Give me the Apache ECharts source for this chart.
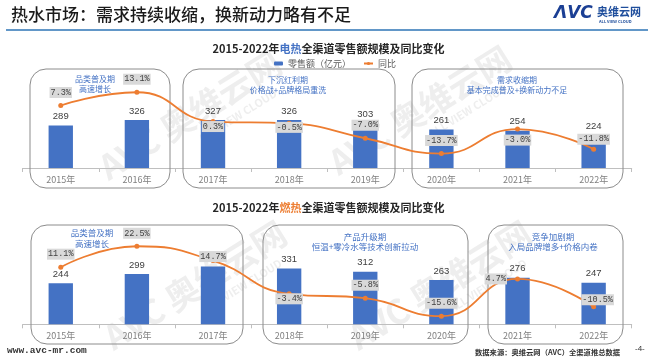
<!DOCTYPE html>
<html>
<head>
<meta charset="utf-8">
<script src="https://cdn.jsdelivr.net/npm/echarts@6/dist/echarts.min.js"></script>
<style>
html,body{margin:0;padding:0;background:#fff;}
#c{width:657px;height:364px;}
</style>
</head>
<body>
<div id="c"></div>
<script>
// ---- data ----
const years = ['2015年','2016年','2017年','2018年','2019年','2020年','2021年','2022年'];
const elecSales = [289, 326, 327, 326, 303, 261, 254, 224];
const elecYoY = [7.3, 13.1, 0.3, -0.5, -7.0, -13.7, -3.0, -11.8];
const gasSales = [244, 299, 343, 331, 312, 263, 276, 247];
const gasYoY = [11.1, 22.5, 14.7, -3.4, -5.8, -15.6, 4.7, -10.5];

// ---- label placement styles (not data) ----
const elecLabelStyle = [
  {position:'top', distance:5}, {position:'top', distance:5},
  {position:'inside', offset:[0,5]}, {position:'inside', offset:[0,4]},
  {position:'top', distance:5}, {position:'top', distance:5},
  {position:'bottom', distance:3}, {position:'top', distance:2}
];
const gasLabelStyle = [
  {position:'top', distance:5}, {position:'top', distance:5},
  {position:'inside', offset:[0,-4]}, {position:'inside', offset:[0,5]},
  {position:'top', distance:5}, {position:'top', distance:5},
  {position:'left', distance:8}, {position:'inside', offset:[4,-7]}
];

const BLUE = '#4472C4', ORANGE = '#ED7D31';
const CJK = '"Noto Sans CJK SC", "Noto Sans", sans-serif';

function lineData(vals, styles){
  return vals.map((v,i)=>({value:v, label:Object.assign({}, styles[i])}));
}

const lineLabel = {
  show:true,
  formatter: p => p.value.toFixed(1) + '%',
  backgroundColor:'#D9D9D9',
  color:'#404040',
  fontFamily:'"Liberation Mono", monospace',
  fontSize:8.5,
  lineHeight:9,
  padding:[1,1,1,1]
};
const barLabel = {show:true, position:'top', distance:4, color:'#404040', fontSize:9.5, fontFamily:'"Liberation Sans", Arial, sans-serif'};

function xAxis(gi){
  return {
    type:'category', gridIndex:gi, data:years,
    axisLine:{lineStyle:{color:'#BFBFBF', width:1}},
    axisTick:{show:true, length:4, lineStyle:{color:'#BFBFBF'}},
    axisLabel:{color:'#7F7F7F', fontSize:9, margin:7, fontFamily:CJK}
  };
}
function yAxis(gi, min, max){
  return {type:'value', gridIndex:gi, min:min, max:max, show:false, splitLine:{show:false}};
}

function box(x, y, w, h){
  return {type:'rect', shape:{x:x, y:y, width:w, height:h, r:16}, style:{fill:'none', stroke:'#8C8C8C', lineWidth:1}, z:1};
}
function note(x, y, text, fs){
  return {type:'text', x:x, y:y, style:{text:text, fill:BLUE, font:'normal '+fs+'px '+CJK, align:'center', verticalAlign:'middle', lineHeight:fs+2}, z:5};
}
function watermark(x, y){
  return {type:'group', x:x, y:y, rotation:0.56, z:20, silent:true, children:[
    {type:'text', x:0, y:0, style:{text:'AVC 奥维云网', fill:'rgba(150,150,150,0.16)', font:'bold 34px '+CJK, align:'center', verticalAlign:'middle'}},
    {type:'text', x:40, y:26, style:{text:'ALL VIEW CLOUD', fill:'rgba(150,150,150,0.16)', font:'bold 11px '+CJK, align:'center', verticalAlign:'middle'}}
  ]};
}

const chart = echarts.init(document.getElementById('c'), null, {renderer:'canvas'});
chart.setOption({
  animation:false,
  backgroundColor:'#fff',
  title:[
    {text:'2015-2022年{b|电热}全渠道零售额规模及同比变化', left:'center', top:38,
     textStyle:{fontSize:11, fontWeight:'bold', color:'#262626', fontFamily:CJK,
       rich:{b:{color:BLUE, fontSize:11, fontWeight:'bold', fontFamily:CJK}}}},
    {text:'2015-2022年{b|燃热}全渠道零售额规模及同比变化', left:'center', top:197,
     textStyle:{fontSize:11, fontWeight:'bold', color:'#262626', fontFamily:CJK,
       rich:{b:{color:ORANGE, fontSize:11, fontWeight:'bold', fontFamily:CJK}}}}
  ],
  legend:{
    data:['零售额（亿元）','同比'], left:269, top:54, itemWidth:9, itemHeight:4, itemGap:12,
    textStyle:{color:'#595959', fontSize:9, fontFamily:CJK}
  },
  grid:[
    {left:22.7, right:25.3, top:65, height:103},
    {left:22.7, right:25.3, top:223.3, height:101}
  ],
  xAxis:[xAxis(0), xAxis(1)],
  yAxis:[yAxis(0,0,700), yAxis(0,-20,25), yAxis(1,0,600), yAxis(1,-20,35)],
  series:[
    {name:'零售额（亿元）', type:'bar', xAxisIndex:0, yAxisIndex:0, data:elecSales, barWidth:'32%',
     itemStyle:{color:BLUE}, label:barLabel, z:2},
    {name:'同比', type:'line', xAxisIndex:0, yAxisIndex:1, data:lineData(elecYoY, elecLabelStyle), smooth:0.5,
     symbol:'circle', symbolSize:5, itemStyle:{color:ORANGE}, lineStyle:{color:ORANGE, width:1.8}, label:lineLabel, z:4},
    {name:'燃热零售额', type:'bar', xAxisIndex:1, yAxisIndex:2, data:gasSales, barWidth:'32%',
     itemStyle:{color:BLUE}, label:barLabel, z:2},
    {name:'燃热同比', type:'line', xAxisIndex:1, yAxisIndex:3, data:lineData(gasYoY, gasLabelStyle), smooth:0.5,
     symbol:'circle', symbolSize:5, itemStyle:{color:ORANGE}, lineStyle:{color:ORANGE, width:1.8}, label:lineLabel, z:4}
  ],
  graphic:[
    {type:'text', x:11, y:15, style:{text:'热水市场：需求持续收缩，换新动力略有不足', fill:'#1A1A1A', font:'500 17px '+CJK, verticalAlign:'middle'}},
    {type:'line', shape:{x1:6, y1:30, x2:648, y2:30}, style:{stroke:'#2E75B6', lineWidth:1.5}},
    {type:'text', x:554, y:14, style:{text:'ΛVC', fill:'#1B3F94', font:'italic bold 17px "DejaVu Sans", sans-serif', verticalAlign:'middle'}},
    {type:'text', x:597, y:12, style:{text:'奥维云网', fill:'#1F4E9C', font:'bold 11px '+CJK, verticalAlign:'middle'}},
    {type:'text', x:599, y:21, style:{text:'ALL VIEW CLOUD', fill:'#1F4E9C', font:'bold 4px '+CJK, verticalAlign:'middle'}},
    box(30, 69, 140, 119), box(183, 69, 212, 119), box(412, 69, 211, 119),
    box(31, 225, 212, 119), box(263, 225, 205, 119), box(488, 225, 135, 119),
    note(95, 84, '品类普及期\n高速增长', 8),
    note(288, 85, '下沉红利期\n价格战+品牌格局重洗', 8),
    note(517, 85, '需求收缩期\n基本完成普及+换新动力不足', 8),
    note(92, 238.5, '品类普及期\n高速增长', 8.5),
    note(365, 242, '产品升级期\n恒温+零冷水等技术创新拉动', 8.5),
    note(553, 242, '竞争加剧期\n入局品牌增多+价格内卷', 8.5),
    watermark(190, 115), watermark(420, 110), watermark(195, 285), watermark(440, 285),
    {type:'text', x:7, y:351, style:{text:'www.avc-mr.com', fill:'#333', font:'bold 9.5px "Liberation Mono", monospace', verticalAlign:'middle'}},
    {type:'text', x:475, y:352, style:{text:'数据来源：奥维云网（AVC）全渠道推总数据', fill:'#333', font:'bold 7.3px '+CJK, verticalAlign:'middle'}},
    {type:'text', x:635, y:349, style:{text:'-4-', fill:'#333', font:'8px "Liberation Sans", sans-serif', verticalAlign:'middle'}}
  ]
});
</script>
</body>
</html>
